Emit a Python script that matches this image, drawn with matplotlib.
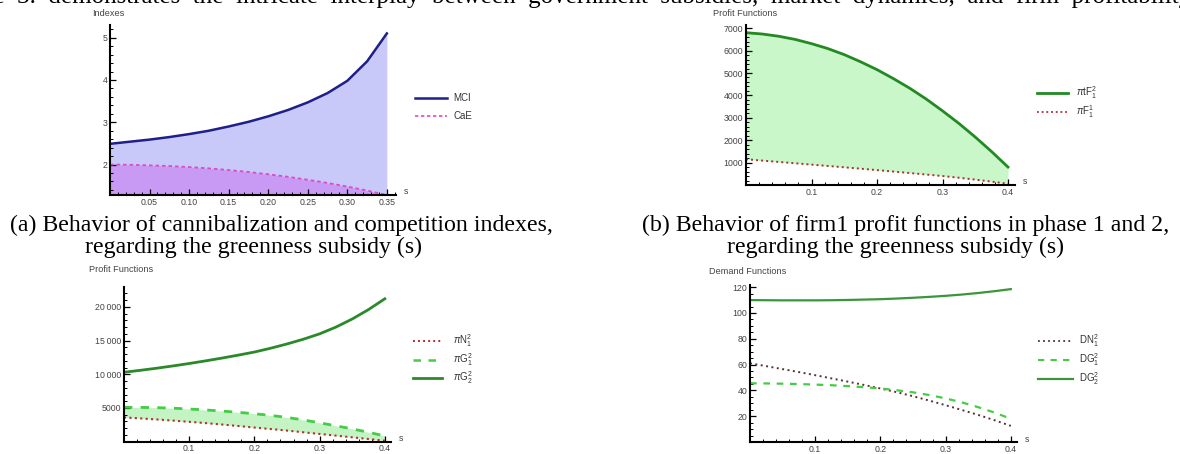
import matplotlib.pyplot as plt
from matplotlib.lines import Line2D
from matplotlib.ticker import MultipleLocator, FixedLocator, FuncFormatter

plt.rcParams['font.family'] = ['Liberation Sans', 'DejaVu Sans']
plt.rcParams['mathtext.fontset'] = 'custom'
plt.rcParams['mathtext.rm'] = 'Liberation Sans'
plt.rcParams['mathtext.it'] = 'Liberation Sans:italic'

W, H = 1180, 454

# ---- values ----
# (a) indexes vs subsidy s
s_a = [0, 0.025, 0.05, 0.075, 0.1, 0.125, 0.15, 0.175, 0.2, 0.225, 0.25, 0.275, 0.3, 0.325, 0.35]
mci = [2.49, 2.54, 2.59, 2.65, 2.72, 2.80, 2.90, 3.01, 3.14, 3.29, 3.47, 3.69, 3.98, 4.44, 5.10]
cae = [2.00, 1.995, 1.98, 1.965, 1.94, 1.91, 1.87, 1.825, 1.77, 1.71, 1.64, 1.565, 1.48, 1.385, 1.28]

# shared grid for panels b, c, d
s_bcd = [0, 0.025, 0.05, 0.075, 0.1, 0.125, 0.15, 0.175, 0.2,
         0.225, 0.25, 0.275, 0.3, 0.325, 0.35, 0.375, 0.4]

# (b) firm1 profit, phase 2 and phase 1
pi_tf1_2 = [6800, 6740, 6640, 6500, 6310, 6090, 5820, 5500, 5150,
            4750, 4320, 3840, 3310, 2750, 2140, 1490, 800]
pi_f1_1 = [1150, 1090, 1030, 970, 910, 850, 790, 728, 665,
           600, 535, 468, 400, 325, 240, 150, 60]

# (c) profit functions, phase 2
pi_n1_2 = [3600, 3460, 3300, 3130, 2950, 2760, 2550, 2330, 2100,
           1880, 1650, 1400, 1150, 900, 650, 400, 150]
pi_g1_2 = [5100, 5090, 5050, 4970, 4850, 4710, 4550, 4360, 4150,
           3900, 3600, 3230, 2800, 2360, 1900, 1400, 850]
pi_g2_2 = [10300, 10590, 10900, 11240, 11600, 11990, 12400, 12840, 13300,
           13870, 14500, 15200, 16000, 17000, 18200, 19600, 21200]

# (d) demand functions, phase 2
dn1_2 = [61, 58.8, 56.5, 54.2, 51.8, 49.3, 46.8, 44.2, 41.5,
         38.6, 35.5, 32.1, 28.5, 24.8, 21, 16.9, 12.5]
dg1_2 = [45.5, 45.4, 45.2, 44.9, 44.5, 44.0, 43.3, 42.5, 41.5,
         40.1, 38.5, 36.4, 33.8, 30.7, 27, 22.8, 18]
dg2_2 = [110, 109.9, 109.8, 109.8, 109.8, 109.9, 110.1, 110.4, 110.7,
         111.2, 111.8, 112.5, 113.3, 114.3, 115.5, 116.9, 118.5]

TICK = 6.3
LEG = 7
SERIF = ['Liberation Serif', 'DejaVu Serif']

fig = plt.figure(figsize=(W / 100, H / 100), dpi=100)


def fy(y):
    return 1 - y / H


def panel(x0, x1, ytop, ybot, xlim, ylim, title, title_xy):
    # Mathematica-style axes: two black lines crossing at the origin
    ax = fig.add_axes([x0 / W, fy(ybot), (x1 - x0) / W, (ybot - ytop) / H])
    ax.set_xlim(xlim)
    ax.set_ylim(ylim)
    ax.patch.set_alpha(0)
    for side in ['top', 'right']:
        ax.spines[side].set_visible(False)
    for side in ['left', 'bottom']:
        ax.spines[side].set_linewidth(1.5)
    ax.tick_params(which='major', direction='in', length=4, width=0.9,
                   labelsize=TICK, labelcolor='#444', pad=2)
    ax.tick_params(which='minor', direction='in', length=2, width=0.7)
    fig.text(title_xy[0] / W, fy(title_xy[1]), title, fontsize=6.6,
             color='#444', ha='center', va='center')
    fig.text((x1 + 10) / W, fy(ybot - 3), 's', fontsize=TICK,
             color='#444', ha='center', va='center')
    return ax


def key(x0, x1, y, tx, label, **style):
    fig.add_artist(Line2D([x0 / W, x1 / W], [fy(y), fy(y)],
                          transform=fig.transFigure, **style))
    fig.text(tx / W, fy(y), label, fontsize=LEG, color='#333',
             ha='left', va='center')


# ---------------- (a) ----------------
ax = panel(110, 110 + 0.362 * 791, 25, 195, (0, 0.362), (1.28, 5.3),
           'Indexes', (108, 14))
ax.fill_between(s_a, 1.28, mci, color='#c9c9f9', lw=0)
ax.fill_between(s_a, 1.28, cae, color='#c99af3', lw=0)
ax.plot(s_a, mci, color='#1f1f8a', lw=1.8)
ax.plot(s_a, cae, color='#d84cc8', lw=1.3, ls=(0, (2, 1.6)))
ax.xaxis.set_major_locator(FixedLocator([0.05, 0.10, 0.15, 0.20, 0.25, 0.30, 0.35]))
ax.xaxis.set_major_formatter(FuncFormatter(lambda v, p: f'{v:.2f}'))
ax.xaxis.set_minor_locator(MultipleLocator(0.01))
ax.yaxis.set_major_locator(FixedLocator([2, 3, 4, 5]))
ax.yaxis.set_minor_locator(MultipleLocator(0.2))
key(415, 447, 98, 453, 'MCI', color='#1f1f8a', lw=1.8)
key(415, 447, 116, 453, 'CaE', color='#d84cc8', lw=1.2, ls=(0, (2, 1.6)))

# ---------------- (b) ----------------
ax = panel(746, 746 + 0.41 * 655, 25, 185, (0, 0.41), (0, 7143),
           'Profit Functions', (745, 13))
ax.fill_between(s_bcd, pi_f1_1, pi_tf1_2, color='#c9f7c9', lw=0)
ax.plot(s_bcd, pi_tf1_2, color='#238a23', lw=2.0)
ax.plot(s_bcd, pi_f1_1, color='#a83030', lw=1.4, ls=(0, (1, 1.6)))
ax.xaxis.set_major_locator(FixedLocator([0.1, 0.2, 0.3, 0.4]))
ax.xaxis.set_minor_locator(MultipleLocator(0.02))
ax.yaxis.set_major_locator(FixedLocator([1000, 2000, 3000, 4000, 5000, 6000, 7000]))
ax.yaxis.set_minor_locator(MultipleLocator(200))
key(1037, 1068, 92.7, 1076, r'$\pi\mathrm{tF}_1^2$', color='#238a23', lw=2.0)
key(1037, 1068, 112, 1076, r'$\pi\mathrm{F}_1^1$', color='#a83030', lw=1.3,
    ls=(0, (1, 1.6)))

# ---------------- (c) ----------------
ax = panel(124, 124 + 0.41 * 652, 287, 441.7, (0, 0.41), (0, 22950),
           'Profit Functions', (121, 270))
ax.fill_between(s_bcd, pi_n1_2, pi_g1_2, color='#c4f4c4', lw=0)
ax.plot(s_bcd, pi_n1_2, color='#b03030', lw=1.5, ls=(0, (1, 1.6)))
ax.plot(s_bcd, pi_g1_2, color='#44cc44', lw=2.0, ls=(0, (3, 3)))
ax.plot(s_bcd, pi_g2_2, color='#2a8a2a', lw=2.0)
ax.xaxis.set_major_locator(FixedLocator([0.1, 0.2, 0.3, 0.4]))
ax.xaxis.set_minor_locator(MultipleLocator(0.02))
ax.yaxis.set_major_locator(FixedLocator([5000, 10000, 15000, 20000]))
ax.yaxis.set_major_formatter(FuncFormatter(
    lambda v, p: f'{int(v):,}'.replace(',', '\u2009') if v >= 10000 else f'{int(v)}'))
ax.yaxis.set_minor_locator(MultipleLocator(1000))
key(413, 442, 341, 453, r'$\pi\mathrm{N}_1^2$', color='#b03030', lw=1.4,
    ls=(0, (1, 1.6)))
key(413, 442, 360, 453, r'$\pi\mathrm{G}_1^2$', color='#44cc44', lw=1.8,
    ls=(0, (3, 3)))
key(413, 442, 378, 453, r'$\pi\mathrm{G}_2^2$', color='#2a8a2a', lw=2.0)

# ---------------- (d) ----------------
ax = panel(750, 750 + 0.41 * 652, 285, 442, (0, 0.41), (0, 121.7),
           'Demand Functions', (748, 271))
ax.plot(s_bcd, dn1_2, color='#5a3030', lw=1.4, ls=(0, (1, 1.8)))
ax.plot(s_bcd, dg1_2, color='#44cc44', lw=1.6, ls=(0, (3, 3)))
ax.plot(s_bcd, dg2_2, color='#3a963a', lw=1.6)
ax.xaxis.set_major_locator(FixedLocator([0.1, 0.2, 0.3, 0.4]))
ax.xaxis.set_minor_locator(MultipleLocator(0.02))
ax.yaxis.set_major_locator(FixedLocator([20, 40, 60, 80, 100, 120]))
ax.yaxis.set_minor_locator(MultipleLocator(5))
key(1038, 1073, 341, 1079, r'$\mathrm{DN}_1^2$', color='#5a3030', lw=1.3,
    ls=(0, (1, 1.8)))
key(1038, 1073, 360, 1079, r'$\mathrm{DG}_1^2$', color='#44cc44', lw=1.5,
    ls=(0, (3, 3)))
key(1038, 1073, 379, 1079, r'$\mathrm{DG}_2^2$', color='#3a963a', lw=1.6)

# ---------------- captions ----------------
cap = dict(fontsize=17.2, family=SERIF, color='black', ha='left', va='baseline')
# justified paragraph line above the figure, only its lower edge shows
top_line = '  '.join('Figure 3. demonstrates the intricate interplay between government '
                     'subsidies, market dynamics, and firm profitability.'.split(' '))
fig.text(-61 / W, fy(3.5), top_line, **dict(cap, fontsize=18))
fig.text(10 / W, fy(230.7), '(a) Behavior of cannibalization and competition indexes,', **cap)
fig.text(85 / W, fy(252.7), 'regarding the greenness subsidy (s)', **cap)
fig.text(642 / W, fy(230.7), '(b) Behavior of firm1 profit functions in phase 1 and 2,', **cap)
fig.text(727 / W, fy(252.7), 'regarding the greenness subsidy (s)', **cap)

fig.savefig('out.png', dpi=100)
